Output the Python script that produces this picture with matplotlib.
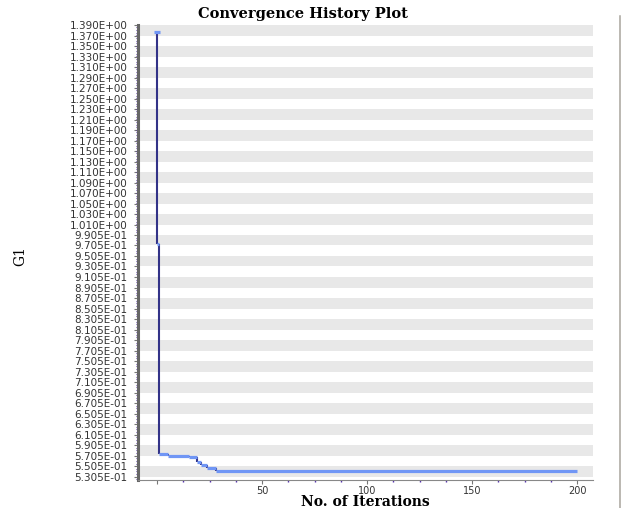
import numpy as np
import matplotlib
matplotlib.use('Agg')
from matplotlib import pyplot as plt
from matplotlib.lines import Line2D
from matplotlib.ticker import FixedLocator, MultipleLocator

# best G1 value per run of iterations
start_iter = 0
start_value = 1.3761
run_start = [0, 1, 5, 15, 19, 21, 24, 28]
run_end = [1, 5, 15, 19, 21, 24, 28, 200]
run_value = [0.973, 0.5731, 0.5699, 0.5686, 0.5591, 0.5528, 0.5465, 0.5410]

# y tick values as printed on the axis
y_ticks = [1.390, 1.370, 1.350, 1.330, 1.310, 1.290, 1.270, 1.250, 1.230, 1.210,
           1.190, 1.170, 1.150, 1.130, 1.110, 1.090, 1.070, 1.050, 1.030, 1.010,
           0.9905, 0.9705, 0.9505, 0.9305, 0.9105, 0.8905, 0.8705, 0.8505,
           0.8305, 0.8105, 0.7905, 0.7705, 0.7505, 0.7305, 0.7105, 0.6905,
           0.6705, 0.6505, 0.6305, 0.6105, 0.5905, 0.5705, 0.5505, 0.5305]
x_ticks = [0, 50, 100, 150, 200]
x_labels = ['', '50', '100', '150', '200']

dark = '#333388'
light = '#7096f5'

fig = plt.figure(figsize=(6.21, 5.08), dpi=100)
ax = fig.add_axes([138/621, 1-480/508, (593-138)/621, (480-25)/508])

# alternating grey bands between ticks
for i in range(0, len(y_ticks) - 1, 2):
    ax.axhspan(y_ticks[i+1], y_ticks[i], color='#e8e8e8', lw=0, zorder=0)

prev = [start_value] + run_value[:-1]
ax.vlines(run_start, run_value, prev, color=dark, lw=1.5, zorder=2)
ax.hlines(run_value, run_start, run_end, color=light, lw=2.3, zorder=3)
ax.plot([start_iter], [start_value], marker='_', ms=4.5, mew=2.3, color=light, zorder=3)

ax.set_xlim(-9.05, 207.6)
ax.set_ylim(0.5242, 1.39)

ax.yaxis.set_major_locator(FixedLocator(y_ticks))
ax.set_yticklabels(['{:.3E}'.format(v) for v in y_ticks])
ax.yaxis.set_minor_locator(FixedLocator(np.arange(0.5255, 1.39, 0.005)))
ax.xaxis.set_major_locator(FixedLocator(x_ticks))
ax.set_xticklabels(x_labels)
ax.xaxis.set_minor_locator(MultipleLocator(12.5))

ax.tick_params(axis='y', which='major', length=3.2, width=0.8, color='#777777',
               pad=4.3, labelsize=7.5, labelcolor='#333333')
ax.tick_params(axis='y', which='minor', length=1.8, width=0.8, color='#5533aa')
ax.tick_params(axis='x', which='major', length=3, width=0.8, color='#777777',
               pad=1.5, labelsize=7, labelcolor='#333333')
ax.tick_params(axis='x', which='minor', length=1.5, width=1, color='#5533aa')

for s in ['top', 'right']:
    ax.spines[s].set_visible(False)
ax.spines['left'].set_linewidth(2.2)
ax.spines['left'].set_color('#666666')
ax.spines['bottom'].set_linewidth(0.8)
ax.spines['bottom'].set_color('#888888')

fig.text(303/621, 1-14/508, 'Convergence History Plot', family='DejaVu Serif',
         weight='bold', fontsize=10.5, ha='center', va='center')
fig.text(365.5/621, 1-502/508, 'No. of Iterations', family='DejaVu Serif',
         weight='bold', fontsize=10, ha='center', va='center')
fig.text(20/621, 1-256/508, 'G1', family='DejaVu Serif', fontsize=10,
         rotation=90, ha='center', va='center')

fig.add_artist(Line2D([619.5/621, 619.5/621], [0, 1-16/508], color='#a8a49c', lw=1.1))

fig.savefig('out.png', dpi=100)
